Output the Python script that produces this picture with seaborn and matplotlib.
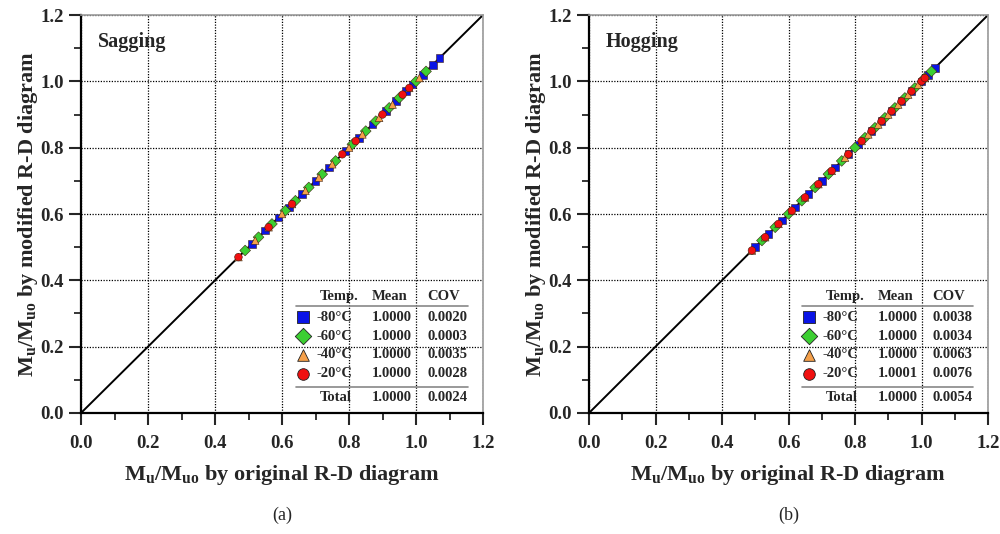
import numpy as np
import pandas as pd
import seaborn as sns
import matplotlib
matplotlib.use('Agg')
import matplotlib.pyplot as plt
from matplotlib.ticker import MultipleLocator, FormatStrFormatter

# Data: M_u/M_uo by original (x) vs modified (y) R-D diagram
temps = ['-80°C', '-60°C', '-40°C', '-20°C']

sag_x_80 = [0.51, 0.55, 0.59, 0.62, 0.66, 0.70, 0.74, 0.79, 0.83, 0.87, 0.91, 0.94, 0.97, 0.99, 1.02, 1.05, 1.07]
sag_y_80 = [0.51, 0.55, 0.59, 0.62, 0.66, 0.70, 0.74, 0.79, 0.83, 0.87, 0.91, 0.94, 0.97, 0.99, 1.02, 1.05, 1.07]
sag_x_60 = [0.49, 0.53, 0.57, 0.61, 0.64, 0.68, 0.72, 0.76, 0.81, 0.85, 0.88, 0.92, 0.95, 1.00, 1.03]
sag_y_60 = [0.49, 0.53, 0.57, 0.61, 0.64, 0.68, 0.72, 0.76, 0.81, 0.85, 0.88, 0.92, 0.95, 1.00, 1.03]
sag_x_40 = [0.47, 0.52, 0.56, 0.60, 0.63, 0.67, 0.71, 0.75, 0.80, 0.84, 0.89, 0.93, 0.98, 1.01]
sag_y_40 = [0.47, 0.52, 0.56, 0.60, 0.63, 0.67, 0.71, 0.75, 0.80, 0.84, 0.89, 0.93, 0.98, 1.01]
sag_x_20 = [0.47, 0.56, 0.63, 0.78, 0.82, 0.90, 0.96, 0.98]
sag_y_20 = [0.47, 0.56, 0.63, 0.78, 0.82, 0.90, 0.96, 0.98]

hog_x_80 = [0.50, 0.54, 0.58, 0.62, 0.66, 0.70, 0.74, 0.78, 0.81, 0.85, 0.88, 0.91, 0.94, 0.97, 1.00, 1.02, 1.04]
hog_y_80 = [0.50, 0.54, 0.58, 0.62, 0.66, 0.70, 0.74, 0.78, 0.81, 0.85, 0.88, 0.91, 0.94, 0.97, 1.00, 1.02, 1.04]
hog_x_60 = [0.52, 0.56, 0.60, 0.64, 0.68, 0.72, 0.76, 0.80, 0.83, 0.86, 0.89, 0.92, 0.95, 0.98, 1.01, 1.03]
hog_y_60 = [0.52, 0.56, 0.60, 0.64, 0.68, 0.72, 0.76, 0.80, 0.83, 0.86, 0.89, 0.92, 0.95, 0.98, 1.01, 1.03]
hog_x_40 = [0.49, 0.53, 0.57, 0.61, 0.65, 0.69, 0.73, 0.77, 0.82, 0.84, 0.87, 0.90, 0.93, 0.96, 0.99, 1.01]
hog_y_40 = [0.49, 0.53, 0.57, 0.61, 0.65, 0.69, 0.73, 0.77, 0.82, 0.84, 0.87, 0.90, 0.93, 0.96, 0.99, 1.01]
hog_x_20 = [0.49, 0.53, 0.57, 0.61, 0.65, 0.69, 0.73, 0.78, 0.82, 0.85, 0.88, 0.91, 0.94, 0.97, 1.00, 1.01]
hog_y_20 = [0.49, 0.53, 0.57, 0.61, 0.65, 0.69, 0.73, 0.78, 0.82, 0.85, 0.88, 0.91, 0.94, 0.97, 1.00, 1.01]

sag_mean = ['1.0000', '1.0000', '1.0000', '1.0000']
sag_cov = ['0.0020', '0.0003', '0.0035', '0.0028']
sag_total = ['1.0000', '0.0024']
hog_mean = ['1.0000', '1.0000', '1.0000', '1.0001']
hog_cov = ['0.0038', '0.0034', '0.0063', '0.0076']
hog_total = ['1.0000', '0.0054']

palette = {'-80°C': '#0a14e6', '-60°C': '#3ccf32', '-40°C': '#f5a04a', '-20°C': '#f01010'}
markers = {'-80°C': 's', '-60°C': 'D', '-40°C': '^', '-20°C': 'o'}


def make_frame(xs, ys):
    rows = []
    for t, x, y in zip(temps, xs, ys):
        for a, b in zip(x, y):
            rows.append({'orig': a, 'mod': b, 'temp': t})
    return pd.DataFrame(rows)


sag_df = make_frame([sag_x_80, sag_x_60, sag_x_40, sag_x_20], [sag_y_80, sag_y_60, sag_y_40, sag_y_20])
hog_df = make_frame([hog_x_80, hog_x_60, hog_x_40, hog_x_20], [hog_y_80, hog_y_60, hog_y_40, hog_y_20])

sns.set_style('white')
plt.rcParams['font.family'] = ['Liberation Serif', 'DejaVu Serif']
plt.rcParams['font.weight'] = 'bold'
plt.rcParams['mathtext.fontset'] = 'custom'
plt.rcParams['mathtext.rm'] = 'Liberation Serif:bold'
plt.rcParams['mathtext.it'] = 'Liberation Serif:bold'
plt.rcParams['mathtext.bf'] = 'Liberation Serif:bold'

fig = plt.figure(figsize=(10, 5.34), dpi=100)
ax1 = fig.add_axes([0.081, 0.2266, 0.402, 0.7453])
ax2 = fig.add_axes([0.589, 0.2266, 0.399, 0.7453])


def draw_panel(ax, df, name, means, covs, total, tag):
    ax.plot([0, 1.2], [0, 1.2], color='black', lw=1.4, zorder=2)
    sns.scatterplot(data=df, x='orig', y='mod', hue='temp', style='temp',
                    palette=palette, markers=markers, hue_order=temps,
                    style_order=temps, s=30, edgecolor='#402010', linewidth=0.4,
                    legend=False, ax=ax, zorder=3)
    ax.set_xlim(0, 1.2)
    ax.set_ylim(0, 1.2)
    for axis in (ax.xaxis, ax.yaxis):
        axis.set_major_locator(MultipleLocator(0.2))
        axis.set_minor_locator(MultipleLocator(0.1))
        axis.set_major_formatter(FormatStrFormatter('%.1f'))
    ax.tick_params(which='major', direction='out', length=8.5, width=1.5,
                   labelsize=13.5, bottom=True, left=True)
    ax.tick_params(which='minor', direction='out', length=5, width=1.3,
                   bottom=True, left=True)
    ax.tick_params(axis='x', which='major', pad=7)
    ax.tick_params(axis='y', which='major', pad=4)
    ax.grid(True, which='major', color='black', linestyle=(0, (1, 1.2)), lw=0.9)
    for s in ['left', 'bottom']:
        ax.spines[s].set_color('black')
        ax.spines[s].set_linewidth(1.6)
    for s in ['top', 'right']:
        ax.spines[s].set_color('#9a9a9a')
        ax.spines[s].set_linewidth(1.2)
    ax.set_xlabel(r'M$_{\mathregular{u}}$/M$_{\mathregular{uo}}$ by original R-D diagram',
                  fontsize=16, fontweight='bold', va='center')
    ax.set_ylabel(r'M$_{\mathregular{u}}$/M$_{\mathregular{uo}}$ by modified R-D diagram',
                  fontsize=16, fontweight='bold', va='center')
    ax.xaxis.set_label_coords(0.5, -0.155)
    ax.yaxis.set_label_coords(-0.132, 0.5)
    ax.text(0.05, 1.12, name, fontsize=14.5, fontweight='bold', va='center', ha='left')

    # stats table
    fs = 10.5
    ax.text(0.713, 0.350, 'Temp.', fontsize=fs, va='center', ha='left')
    ax.text(0.869, 0.350, 'Mean', fontsize=fs, va='center', ha='left')
    ax.text(1.033, 0.350, 'COV', fontsize=fs, va='center', ha='left')
    ax.plot([0.642, 1.155], [0.323, 0.323], color='#888888', lw=1.2)
    row_y = [0.289, 0.232, 0.175, 0.118]
    for t, m, c, yy in zip(temps, means, covs, row_y):
        ax.scatter([0.663], [yy], marker=markers[t], s=70, color=palette[t],
                   edgecolor='#202020', linewidth=0.6, zorder=4)
        ax.text(0.703, yy, t, fontsize=fs, va='center', ha='left')
        ax.text(0.869, yy, m, fontsize=fs, va='center', ha='left')
        ax.text(1.033, yy, c, fontsize=fs, va='center', ha='left')
    ax.plot([0.642, 1.155], [0.078, 0.078], color='#888888', lw=1.2)
    ax.text(0.713, 0.048, 'Total', fontsize=fs, va='center', ha='left')
    ax.text(0.869, 0.048, total[0], fontsize=fs, va='center', ha='left')
    ax.text(1.033, 0.048, total[1], fontsize=fs, va='center', ha='left')

    ax.text(0.5, -0.256, tag, transform=ax.transAxes, fontsize=13,
            fontweight='normal', ha='center', va='center')


draw_panel(ax1, sag_df, 'Sagging', sag_mean, sag_cov, sag_total, '(a)')
draw_panel(ax2, hog_df, 'Hogging', hog_mean, hog_cov, hog_total, '(b)')

fig.savefig('out.png', dpi=100)
